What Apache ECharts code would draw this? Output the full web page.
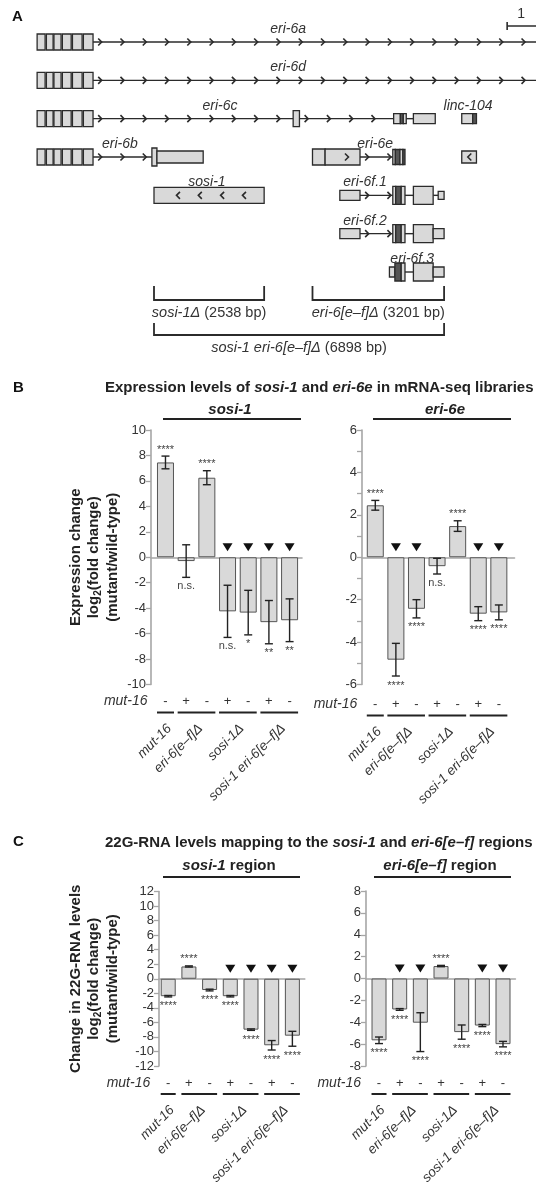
<!DOCTYPE html>
<html>
<head>
<meta charset="utf-8">
<script src="https://cdn.jsdelivr.net/npm/echarts@6/dist/echarts.min.js"></script>
<style>
html, body { margin: 0; padding: 0; background: #fff; }
#chart { width: 536px; height: 1191px; }
</style>
</head>
<body>
<div id="chart"></div>
<script>
// ---------- panel A : gene models, positions in kb (0 = left end of sosi-1 deletion) ----------
var firstExons = [[-2.78, -2.59], [-2.56, -2.40], [-2.38, -2.21], [-2.18, -1.97], [-1.94, -1.71], [-1.68, -1.45]];

// [start, end, row, height class, dark]
var exons = [
    [3.31, 3.46, 2, 0, 0], [5.70, 5.86, 2, 1, 0], [5.86, 5.93, 2, 1, 1], [5.93, 6.00, 2, 1, 0], [6.17, 6.69, 2, 1, 0],
    [7.32, 7.58, 2, 1, 0], [7.58, 7.67, 2, 1, 1],
    [-0.05, 0.07, 3, 3, 0], [0.07, 1.17, 3, 4, 0],
    [3.77, 4.07, 3, 0, 0], [4.07, 4.90, 3, 0, 0], [5.68, 5.74, 3, 5, 0], [5.74, 5.85, 3, 5, 1], [5.85, 5.92, 3, 5, 0], [5.92, 5.97, 3, 5, 1],
    [7.32, 7.67, 3, 4, 0],
    [0.00, 2.62, 4, 0, 0],
    [4.42, 4.90, 4, 1, 0], [5.68, 5.75, 4, 3, 0], [5.75, 5.88, 4, 3, 1], [5.88, 5.97, 4, 3, 0], [6.17, 6.64, 4, 3, 0], [6.76, 6.90, 4, 2, 0],
    [4.42, 4.90, 5, 1, 0], [5.68, 5.75, 5, 3, 0], [5.75, 5.88, 5, 3, 1], [5.88, 5.97, 5, 3, 0], [6.17, 6.64, 5, 3, 0], [6.64, 6.90, 5, 1, 0],
    [5.60, 5.73, 6, 1, 0], [5.73, 5.88, 6, 3, 1], [5.88, 5.97, 6, 3, 0], [6.17, 6.64, 6, 3, 0], [6.64, 6.90, 6, 1, 0]
];
// [start, end, row, with arrows]
var introns = [
    [-1.45, 9.3, 0, 1], [-1.45, 9.3, 1, 1],
    [-1.45, 3.31, 2, 1], [3.46, 5.70, 2, 1], [6.00, 6.17, 2, 0],
    [-1.45, -0.05, 3, 1], [4.90, 5.68, 3, 1],
    [4.90, 5.68, 4, 1], [5.97, 6.17, 4, 0], [6.64, 6.76, 4, 0],
    [4.90, 5.68, 5, 1], [5.97, 6.17, 5, 0],
    [5.97, 6.17, 6, 0]
];
// arrows drawn inside exons [x, row, strand]
var innerArrows = [[0.57, 4, -1], [1.09, 4, -1], [1.62, 4, -1], [2.14, 4, -1], [4.59, 3, 1], [7.50, 3, -1]];
var geneNames = ['eri-6a', 'eri-6d', 'eri-6c', 'linc-104', 'eri-6b', 'eri-6e', 'sosi-1', 'eri-6f.1', 'eri-6f.2', 'eri-6f.3'];
var geneNameAt = [[3.19, 0], [3.19, 1], [1.57, 2], [7.47, 2], [-0.81, 3], [5.26, 3], [1.26, 4], [5.02, 4], [5.02, 5], [6.14, 6]];
var deletionNames = ['sosi-1Δ', 'eri-6[e–f]Δ', 'sosi-1 eri-6[e–f]Δ'];
var deletionSizes = ['2538 bp', '3201 bp', '6898 bp'];
var deletionSpans = [[0, 2.62, 0], [3.77, 6.90, 0], [0, 6.90, 1]];
var scaleBar = [[8.40, 9.40]];

// ---------- panels B and C ----------
var strains = ['mut-16', 'eri-6[e–f]Δ', 'sosi-1Δ', 'sosi-1 eri-6[e–f]Δ'];
var strainBars = [[1, 1], [2, 3], [4, 5], [6, 7]];
var mut16 = ['-', '+', '-', '+', '-', '+', '-'];

var mrnaSosi = [7.45, -0.3, 6.25, -4.25, -4.35, -5.1, -4.95];
var mrnaSosiErr = [0.5, 1.28, 0.55, 2.05, 1.75, 1.7, 1.68];
var mrnaSosiSig = ['****', 'n.s.', '****', 'n.s.', '*', '**', '**'];
var mrnaSosiMark = [0, 0, 0, 1, 1, 1, 1];

var mrnaEri = [2.45, -4.83, -2.43, -0.42, 1.47, -2.66, -2.6];
var mrnaEriErr = [0.23, 0.77, 0.43, 0.37, 0.25, 0.33, 0.35];
var mrnaEriSig = ['****', '****', '****', 'n.s.', '****', '****', '****'];
var mrnaEriMark = [0, 1, 1, 0, 0, 1, 1];

var rnaSosi = [-2.4, 1.69, -1.55, -2.4, -7.0, -9.15, -7.83];
var rnaSosiErr = [0.1, 0.08, 0.12, 0.1, 0.1, 0.65, [1.45, 0.6]];
var rnaSosiSig = ['****', '****', '****', '****', '****', '****', '****'];
var rnaSosiMark = [0, 0, 0, 1, 1, 1, 1];

var rnaEri = [-5.65, -2.83, -4.04, 1.14, -4.9, -4.3, -6.0];
var rnaEriErr = [0.3, 0.08, [2.64, 0.91], 0.06, 0.65, 0.1, 0.25];
var rnaEriSig = ['****', '****', '****', '****', '****', '****', '****'];
var rnaEriMark = [0, 1, 1, 0, 0, 1, 1];

var FONT = '"Liberation Sans", Arial, sans-serif';
var INK = '#2b2b2b';
var FILL = '#d9d9d9';
var AXIS = '#a6a6a6';
var exonHeights = [16, 10, 8, 18, 12, 15];

var chart = echarts.init(document.getElementById('chart'));

function chevron(x, y, dir) {
    return {
        type: 'polyline',
        shape: { points: [[x - 2 * dir, y - 3.5], [x + 1.5 * dir, y], [x - 2 * dir, y + 3.5]] },
        style: { stroke: INK, lineWidth: 1.6, fill: null }
    };
}

function txt(x, y, text, size, extra) {
    var el = {
        type: 'text', x: x, y: y,
        style: { text: text, fontSize: size, fontFamily: FONT, fill: INK, align: 'center', verticalAlign: 'middle' }
    };
    for (var k in extra) { el.style[k] = extra[k]; }
    return el;
}

var allExons = [];
for (var r = 0; r < 4; r++) {
    firstExons.forEach(function (e) { allExons.push([e[0], e[1], r, 0, 0]); });
}
allExons = allExons.concat(exons);

var series = [
    {
        type: 'custom', xAxisIndex: 0, yAxisIndex: 0, z: 1, data: introns,
        renderItem: function (params, api) {
            var a = api.coord([api.value(0), api.value(2)]);
            var b = api.coord([api.value(1), api.value(2)]);
            var kids = [{ type: 'line', shape: { x1: a[0], y1: a[1], x2: b[0], y2: b[1] }, style: { stroke: INK, lineWidth: 1.4 } }];
            if (api.value(3)) {
                for (var x = api.value(0) + 0.17; x < api.value(1) - 0.05; x += 0.53) {
                    var p = api.coord([x, api.value(2)]);
                    kids.push(chevron(p[0], p[1], 1));
                }
            }
            return { type: 'group', children: kids };
        }
    },
    {
        type: 'custom', xAxisIndex: 0, yAxisIndex: 0, z: 2, data: allExons,
        renderItem: function (params, api) {
            var a = api.coord([api.value(0), api.value(2)]);
            var b = api.coord([api.value(1), api.value(2)]);
            var h = exonHeights[api.value(3)];
            return {
                type: 'rect',
                shape: { x: a[0], y: a[1] - h / 2, width: b[0] - a[0], height: h },
                style: { fill: api.value(4) ? '#555' : FILL, stroke: INK, lineWidth: 1.3 }
            };
        }
    },
    {
        type: 'custom', xAxisIndex: 0, yAxisIndex: 0, z: 3, data: innerArrows,
        renderItem: function (params, api) {
            var p = api.coord([api.value(0), api.value(1)]);
            return chevron(p[0], p[1], api.value(2));
        }
    },
    {
        type: 'custom', xAxisIndex: 0, yAxisIndex: 0, z: 3, data: geneNameAt,
        renderItem: function (params, api) {
            var p = api.coord([api.value(0), api.value(1)]);
            return txt(p[0], p[1] - 13, geneNames[params.dataIndex], 14, { fontStyle: 'italic', fill: '#333' });
        }
    },
    {
        type: 'custom', xAxisIndex: 0, yAxisIndex: 0, z: 3, data: deletionSpans,
        renderItem: function (params, api) {
            var a = api.coord([api.value(0), 6]);
            var b = api.coord([api.value(1), 6]);
            var tier = api.value(2);
            var yb = a[1] + (tier ? 63 : 28);
            var th = tier ? 12 : 14;
            var i = params.dataIndex;
            return {
                type: 'group', children: [
                    { type: 'polyline', shape: { points: [[a[0], yb - th], [a[0], yb], [b[0], yb], [b[0], yb - th]] }, style: { stroke: INK, lineWidth: 1.8, fill: null } },
                    txt((a[0] + b[0]) / 2, yb + 13, '{i|' + deletionNames[i] + '} (' + deletionSizes[i] + ')', 14.5, {
                        fill: '#333',
                        rich: { i: { fontStyle: 'italic', fontSize: 14.5, fontFamily: FONT, fill: '#333' } }
                    })
                ]
            };
        }
    },
    {
        type: 'custom', xAxisIndex: 0, yAxisIndex: 0, z: 3, data: scaleBar,
        renderItem: function (params, api) {
            var a = api.coord([api.value(0), 0]);
            var b = api.coord([api.value(1), 0]);
            var y = a[1] - 16;
            return {
                type: 'group', children: [
                    { type: 'line', shape: { x1: a[0], y1: y, x2: b[0], y2: y }, style: { stroke: INK, lineWidth: 1.6 } },
                    { type: 'line', shape: { x1: a[0], y1: y - 4, x2: a[0], y2: y + 4 }, style: { stroke: INK, lineWidth: 1.6 } },
                    txt(a[0] + 10, y - 12, '1', 14, { align: 'left', fill: '#333' })
                ]
            };
        }
    }
];

var panels = [
    { values: mrnaSosi, errs: mrnaSosiErr, sigs: mrnaSosiSig, marks: mrnaSosiMark, rowShift: 0,
      grid: { left: 151, top: 430, width: 151, height: 254.5 }, x: [0.30, 7.6], y: [-10, 10, 2], barWidth: 17,
      name: 'Expression change\nlog{sub|2}(fold change)\n(mutant/wild-type)', nameGap: 29 },
    { values: mrnaEri, errs: mrnaEriErr, sigs: mrnaEriSig, marks: mrnaEriMark, rowShift: 3,
      grid: { left: 362, top: 430, width: 152.5, height: 254.5 }, x: [0.355, 7.76], y: [-6, 6, 1], barWidth: 17, evenOnly: true },
    { values: rnaSosi, errs: rnaSosiErr, sigs: rnaSosiSig, marks: rnaSosiMark, rowShift: 0,
      grid: { left: 159, top: 891.5, width: 145.8, height: 174.5 }, x: [0.555, 7.6], y: [-12, 12, 2], barWidth: 15,
      name: 'Change in 22G-RNA levels\nlog{sub|2}(fold change)\n(mutant/wild-type)', nameGap: 37 },
    { values: rnaEri, errs: rnaEriErr, sigs: rnaEriSig, marks: rnaEriMark, rowShift: 0,
      grid: { left: 366, top: 891, width: 149.4, height: 175 }, x: [0.37, 7.6], y: [-8, 8, 2], barWidth: 15 }
];

var grids = [{ left: 154, top: 42, width: 290, height: 230 }];
var xAxes = [{ type: 'value', gridIndex: 0, min: 0, max: 6.898, show: false }];
var yAxes = [{ type: 'value', gridIndex: 0, min: 0, max: 6, inverse: true, show: false }];

panels.forEach(function (p, n) {
    var k = n + 1;
    var half = p.barWidth / 2;
    grids.push(p.grid);
    xAxes.push({
        type: 'value', gridIndex: k, min: p.x[0], max: p.x[1],
        axisLine: { show: true, onZero: true, lineStyle: { color: AXIS, width: 1.6 } },
        axisTick: { show: false }, axisLabel: { show: false }, splitLine: { show: false }
    });
    yAxes.push({
        type: 'value', gridIndex: k, min: p.y[0], max: p.y[1], interval: p.y[2],
        axisLine: { show: true, lineStyle: { color: AXIS, width: 1.6 } },
        axisTick: { show: true, length: 5, lineStyle: { color: AXIS, width: 1.3 } },
        axisLabel: {
            color: '#333', fontSize: 13, fontFamily: FONT, margin: 5,
            formatter: function (v) { return (p.evenOnly && v % 2) ? '' : String(v); }
        },
        splitLine: { show: false },
        name: p.name || '', nameLocation: 'middle', nameRotate: 90, nameGap: p.nameGap || 0,
        nameTextStyle: {
            fontSize: 15, fontWeight: 'bold', color: '#222', fontFamily: FONT, lineHeight: 18.5, align: 'center',
            rich: { sub: { fontSize: 10, fontWeight: 'bold', color: '#222', fontFamily: FONT, verticalAlign: 'bottom', lineHeight: 16 } }
        }
    });

    var limits = p.values.map(function (v, i) {
        var e = p.errs[i];
        var down = Array.isArray(e) ? e[0] : e;
        var up = Array.isArray(e) ? e[1] : e;
        return [i + 1, v - down, v + up];
    });

    series.push({
        type: 'bar', xAxisIndex: k, yAxisIndex: k, barWidth: p.barWidth,
        data: p.values.map(function (v, i) { return [i + 1, v]; }),
        itemStyle: { color: FILL, borderColor: '#555', borderWidth: 1 }
    });
    // error bars
    series.push({
        type: 'custom', xAxisIndex: k, yAxisIndex: k, z: 3, data: limits,
        renderItem: function (params, api) {
            var t = api.coord([api.value(0), api.value(2)]);
            var b = api.coord([api.value(0), api.value(1)]);
            var st = { stroke: '#222', lineWidth: 1.4 };
            return {
                type: 'group', children: [
                    { type: 'line', shape: { x1: t[0], y1: t[1], x2: b[0], y2: b[1] }, style: st },
                    { type: 'line', shape: { x1: t[0] - 4, y1: t[1], x2: t[0] + 4, y2: t[1] }, style: st },
                    { type: 'line', shape: { x1: b[0] - 4, y1: b[1], x2: b[0] + 4, y2: b[1] }, style: st }
                ]
            };
        }
    });
    // significance labels
    series.push({
        type: 'custom', xAxisIndex: k, yAxisIndex: k, z: 3, data: limits,
        renderItem: function (params, api) {
            var i = params.dataIndex;
            var s = p.sigs[i];
            if (p.values[i] >= 0) {
                var t = api.coord([api.value(0), api.value(2)]);
                return txt(t[0], t[1] - 1, s, 11, { verticalAlign: 'bottom', fill: '#444' });
            }
            var b = api.coord([api.value(0), api.value(1)]);
            return txt(b[0], b[1] + (s === 'n.s.' ? 3.5 : 4), s, 11, { verticalAlign: 'top', fill: '#444' });
        }
    });
    // filled triangles over marked bars
    series.push({
        type: 'custom', xAxisIndex: k, yAxisIndex: k, z: 3,
        data: p.values.map(function (v, i) { return [i + 1, p.marks[i]]; }),
        renderItem: function (params, api) {
            if (!api.value(1)) { return null; }
            var c = api.coord([api.value(0), 0]);
            return { type: 'polygon', shape: { points: [[c[0] - 5, c[1] - 14], [c[0] + 5, c[1] - 14], [c[0], c[1] - 6]] }, style: { fill: '#111' } };
        }
    });
    // mut-16 row
    series.push({
        type: 'custom', xAxisIndex: k, yAxisIndex: k, z: 3,
        data: mut16.map(function (s, i) { return [i + 1, 0]; }),
        renderItem: function (params, api) {
            var c = api.coord([api.value(0), 0]);
            var y = params.coordSys.y + params.coordSys.height + 17 + p.rowShift;
            var kids = [txt(c[0], y, mut16[params.dataIndex], 13, { fill: '#333' })];
            if (params.dataIndex === 0) {
                kids.push(txt(c[0] - 18, y, 'mut-16', 14, { align: 'right', fontStyle: 'italic', fill: '#333' }));
            }
            return { type: 'group', children: kids };
        }
    });
    // strain groups
    series.push({
        type: 'custom', xAxisIndex: k, yAxisIndex: k, z: 3, data: strainBars,
        renderItem: function (params, api) {
            var a = api.coord([api.value(0), 0]);
            var b = api.coord([api.value(1), 0]);
            var y = params.coordSys.y + params.coordSys.height + 28 + p.rowShift;
            return {
                type: 'group', children: [
                    { type: 'line', shape: { x1: a[0] - half, y1: y, x2: b[0] + half, y2: y }, style: { stroke: '#222', lineWidth: 2 } },
                    {
                        type: 'text', x: (a[0] + b[0]) / 2 + 4, y: y + 14, rotation: Math.PI / 4,
                        style: { text: strains[params.dataIndex], fontSize: 13.5, fontStyle: 'italic', fontFamily: FONT, fill: '#333', align: 'right', verticalAlign: 'middle' }
                    }
                ]
            };
        }
    });
});

var boldIt = { fontSize: 15, fontWeight: 'bold', fontStyle: 'italic', fontFamily: FONT, fill: '#222' };
function heading(x, y, text, align) {
    return {
        type: 'text', x: x, y: y,
        style: {
            text: text, fontSize: 15, fontWeight: 'bold', fontFamily: FONT, fill: '#222',
            align: align, verticalAlign: 'middle', rich: { i: boldIt }
        }
    };
}
function letter(x, y, t) {
    return { type: 'text', x: x, y: y, style: { text: t, fontSize: 15, fontWeight: 'bold', fontFamily: FONT, fill: '#111', verticalAlign: 'middle' } };
}
function rule(x1, x2, y) {
    return { type: 'line', shape: { x1: x1, y1: y, x2: x2, y2: y }, style: { stroke: '#222', lineWidth: 2 } };
}

var option = {
    animation: false,
    backgroundColor: '#fff',
    textStyle: { fontFamily: FONT },
    grid: grids,
    xAxis: xAxes,
    yAxis: yAxes,
    series: series,
    graphic: [
        letter(12, 17, 'A'),
        letter(13, 388, 'B'),
        letter(13, 842, 'C'),
        heading(105, 388, 'Expression levels of {i|sosi-1} and {i|eri-6e} in mRNA-seq libraries', 'left'),
        heading(230, 410, '{i|sosi-1}', 'center'),
        heading(445, 410, '{i|eri-6e}', 'center'),
        rule(163, 301, 419),
        rule(373, 511, 419),
        heading(105, 843, '22G-RNA levels mapping to the {i|sosi-1} and {i|eri-6[e–f]} regions', 'left'),
        heading(229, 866, '{i|sosi-1} region', 'center'),
        heading(440, 866, '{i|eri-6[e–f]} region', 'center'),
        rule(163, 300, 877),
        rule(374, 511, 877)
    ]
};

chart.setOption(option);
</script>
</body>
</html>
